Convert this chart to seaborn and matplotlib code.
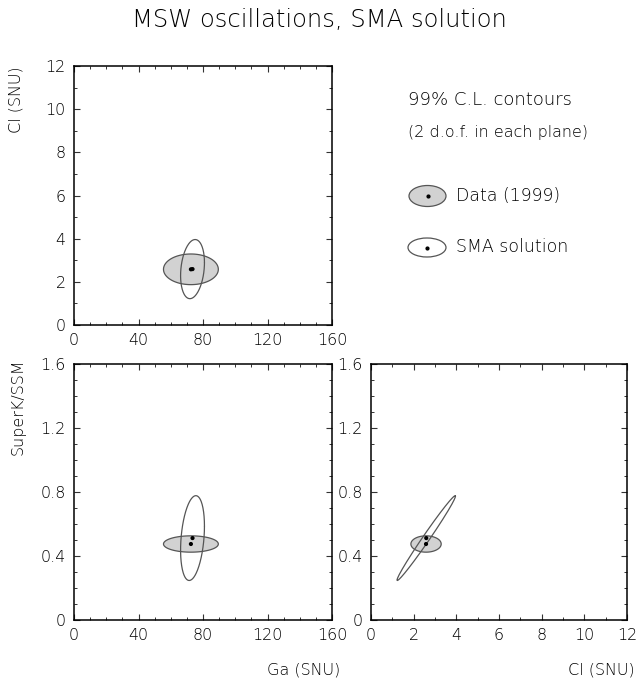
import numpy as np
import pandas as pd
import seaborn as sns
import matplotlib
matplotlib.use("Agg")
import matplotlib.pyplot as plt
from matplotlib.patches import Ellipse
from matplotlib.ticker import MultipleLocator, FuncFormatter

# fit values: Ga (SNU), Cl (SNU), SuperK/SSM
quantities = ["Ga", "Cl", "SK"]
data_best = [72.5, 2.58, 0.475]
data_half = [17.0, 0.71, 0.051]      # 99% C.L. half extents of the data contour
sma_best = [73.5, 2.59, 0.512]
sma_half = [7.4, 1.37, 0.265]        # 99% C.L. half extents of the SMA contour
sma_rho = {("Ga", "Cl"): 0.22, ("Ga", "SK"): 0.28, ("Cl", "SK"): 0.99}

axis_labels = {"Ga": "Ga (SNU)", "Cl": "Cl (SNU)", "SK": "SuperK/SSM"}
axis_limits = {"Ga": (0, 160), "Cl": (0, 12), "SK": (0, 1.6)}
major_step = {"Ga": 40, "Cl": 2, "SK": 0.4}
minor_step = {"Ga": 10, "Cl": 1, "SK": 0.1}

sns.set_style("ticks")
plt.rcParams["font.family"] = ["DejaVu Sans"]
plt.rcParams["font.weight"] = "light"
plt.rcParams["axes.linewidth"] = 1.1

W, H = 638, 685
fig = plt.figure(figsize=(W / 100, H / 100), dpi=100)
txt_col = "black"


def box(x0, y0, x1, y1):
    return [x0 / W, 1 - y1 / H, (x1 - x0) / W, (y1 - y0) / H]


def contour(cx, cy, hx, hy, rho, n=200):
    t = np.linspace(0, 2 * np.pi, n)
    x = cx + hx * np.cos(t)
    y = cy + hy * (rho * np.cos(t) + np.sqrt(1 - rho ** 2) * np.sin(t))
    return pd.DataFrame({"x": x, "y": y, "t": t})


def panel(rect, qx, qy):
    ax = fig.add_axes(rect)
    ix, iy = quantities.index(qx), quantities.index(qy)
    d = contour(data_best[ix], data_best[iy], data_half[ix], data_half[iy], 0.0)
    ax.fill(d["x"], d["y"], facecolor="#d2d2d2", edgecolor="#555555", lw=0.9, zorder=2)
    s = contour(sma_best[ix], sma_best[iy], sma_half[ix], sma_half[iy], sma_rho[(qx, qy)])
    sns.lineplot(data=s, x="x", y="y", sort=False, estimator=None, ax=ax,
                 color="#555555", lw=0.9, zorder=3)
    pts = pd.DataFrame({"x": [data_best[ix], sma_best[ix]], "y": [data_best[iy], sma_best[iy]]})
    sns.scatterplot(data=pts, x="x", y="y", ax=ax, color="black", s=9,
                    edgecolor="none", zorder=4)
    ax.set_xlim(axis_limits[qx])
    ax.set_ylim(axis_limits[qy])
    ax.xaxis.set_major_locator(MultipleLocator(major_step[qx]))
    ax.xaxis.set_minor_locator(MultipleLocator(minor_step[qx]))
    ax.yaxis.set_major_locator(MultipleLocator(major_step[qy]))
    ax.yaxis.set_minor_locator(MultipleLocator(minor_step[qy]))
    fmt = FuncFormatter(lambda v, p: "%g" % round(v, 3))
    ax.xaxis.set_major_formatter(fmt)
    ax.yaxis.set_major_formatter(fmt)
    ax.tick_params(which="both", direction="in", top=True, right=True,
                   color="#333333", labelsize=11.5, labelcolor=txt_col)
    ax.tick_params(which="major", length=4, width=0.8, pad=6)
    ax.tick_params(which="minor", length=2.2, width=0.7)
    ax.set_xlabel("")
    ax.set_ylabel("")
    for sp in ax.spines.values():
        sp.set_visible(True)
        sp.set_color("black")
    return ax


ax1 = panel(box(74, 66, 332, 325), "Ga", "Cl")
ax2 = panel(box(74, 364, 332, 620), "Ga", "SK")
ax3 = panel(box(371, 364, 627, 620), "Cl", "SK")

lab = dict(fontsize=11.5, color=txt_col)
fig.text(16 / W, 1 - 66 / H, axis_labels["Cl"], rotation=90, ha="center", va="top", **lab)
fig.text(18 / W, 1 - 358 / H, axis_labels["SK"], rotation=90, ha="center", va="top", **lab)
fig.text(340 / W, 1 - 670 / H, axis_labels["Ga"], ha="right", va="center", **lab)
fig.text(635 / W, 1 - 670 / H, axis_labels["Cl"], ha="right", va="center", **lab)

fig.text(0.5, 1 - 20 / H, "MSW oscillations, SMA solution", ha="center", va="center",
         fontsize=17.5, color=txt_col)

# legend box in the empty top-right slot, pixel-like units
lg = fig.add_axes(box(371, 66, 627, 325))
lg.set_xlim(0, 256)
lg.set_ylim(0, 259)
lg.axis("off")
lg.text(37, 225, "99% C.L. contours", ha="left", va="center", fontsize=13, color=txt_col)
lg.text(37, 193, "(2 d.o.f. in each plane)", ha="left", va="center", fontsize=11.5, color=txt_col)
lg.add_patch(Ellipse((56.5, 129), 37, 21, facecolor="#d2d2d2", edgecolor="#555555", lw=0.9))
lg.add_patch(Ellipse((56, 77.5), 38, 19, facecolor="white", edgecolor="#555555", lw=0.9))
lg.scatter([56.5, 56], [129, 77.5], color="black", s=4, zorder=5)
lg.text(85, 129, "Data (1999)", ha="left", va="center", fontsize=12.5, color=txt_col)
lg.text(85, 77.5, "SMA solution", ha="left", va="center", fontsize=12.5, color=txt_col)

fig.savefig("out.png", dpi=100)
